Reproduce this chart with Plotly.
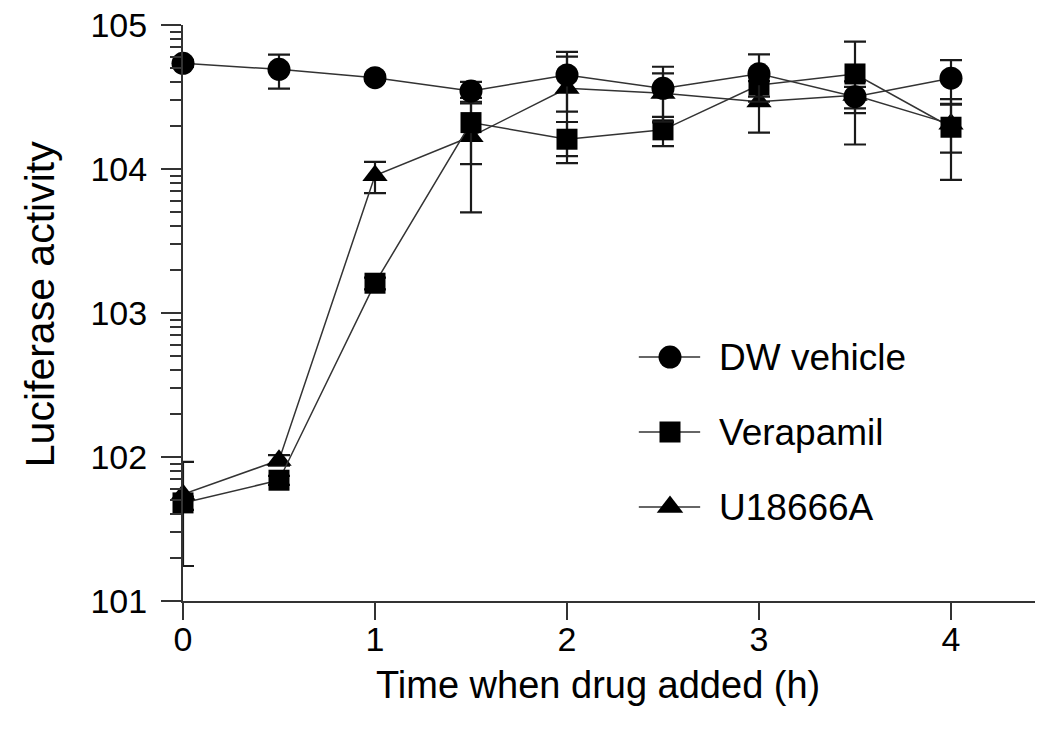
import plotly.graph_objects as go

# Time when drug was added (h)
time_h = [0, 0.5, 1, 1.5, 2, 2.5, 3, 3.5, 4]

# Mean luciferase activity and SD for each treatment
dw_mean = [54200, 49200, 43100, 34800, 45000, 36300, 45900, 31800, 42700]
dw_sd = [3000, 13100, 2000, 5500, 20000, 15000, 16600, 5400, 14400]

verapamil_mean = [48, 69, 1610, 21000, 16100, 18700, 38300, 45700, 19500]
verapamil_sd = [5, 5, 150, 10200, 5100, 4300, 6500, 30900, 11100]

u18666a_mean = [55, 95, 9000, 16800, 36300, 33600, 29300, 32500, 20500]
u18666a_sd = [37.5, 8, 2200, 11800, 24000, 12500, 11400, 8100, 7500]

series_names = ["DW vehicle", "Verapamil", "U18666A"]
decades = [1, 2, 3, 4, 5]
x_ticks = [0, 1, 2, 3, 4]

FONT = "Arial, 'Liberation Sans', sans-serif"
INK = "#000000"
LINE = "#333333"

fig = go.Figure()

# Draw U18666A first so the squares and circles sit on top
series = [
    (series_names[2], u18666a_mean, u18666a_sd, "triangle-up", 22),
    (series_names[1], verapamil_mean, verapamil_sd, "square", 21),
    (series_names[0], dw_mean, dw_sd, "circle", 23),
]
for name, mean, sd, symbol, size in series:
    fig.add_trace(go.Scatter(
        x=time_h, y=mean, name=name, mode="lines+markers",
        line=dict(color=LINE, width=1.5),
        marker=dict(symbol=symbol, size=size, color=INK, line=dict(width=0)),
        error_y=dict(type="data", array=sd, visible=True,
                     color="#1a1a1a", thickness=2.2, width=11),
        cliponaxis=False, showlegend=False,
    ))

# Key drawn on an overlay axis spanning the plot area
key_rows = [0.4236, 0.2934, 0.1632]
key_symbols = [("circle", 23), ("square", 21), ("triangle-up", 23)]
for name, (symbol, size), yy in zip(series_names, key_symbols, key_rows):
    fig.add_trace(go.Scatter(
        x=[0.535, 0.607], y=[yy, yy], mode="lines",
        line=dict(color=LINE, width=1.5),
        xaxis="x2", yaxis="y2", showlegend=False, hoverinfo="skip",
    ))
    fig.add_trace(go.Scatter(
        x=[0.5716], y=[yy], mode="markers",
        marker=dict(symbol=symbol, size=size, color=INK, opacity=1,
                    line=dict(width=0)),
        xaxis="x2", yaxis="y2", showlegend=False, hoverinfo="skip",
    ))
    fig.add_annotation(
        x=0.627, y=yy, xref="x2", yref="y2", text=name, showarrow=False,
        xanchor="left", yanchor="middle", font=dict(family=FONT, size=37, color=INK),
    )

minor_vals = [m * 10 ** d for d in decades[:-1] for m in range(2, 10)]

fig.update_layout(
    width=1037, height=734,
    margin=dict(l=183, r=2, t=25, b=133),
    paper_bgcolor="white", plot_bgcolor="white",
    font=dict(family=FONT, color=INK),
    xaxis=dict(
        range=[0, 4.4375], tickmode="array", tickvals=x_ticks,
        ticktext=[str(v) for v in x_ticks],
        showline=True, linecolor=LINE, linewidth=2,
        ticks="outside", ticklen=17, tickwidth=2, tickcolor=LINE,
        ticklabelstandoff=-10,
        showgrid=False, zeroline=False,
        tickfont=dict(family=FONT, size=34, color=INK),
    ),
    yaxis=dict(
        type="log", range=[1, 5], tickmode="array",
        tickvals=[10 ** d for d in decades],
        ticktext=[f"10{d}" for d in decades],
        showline=True, linecolor=LINE, linewidth=2,
        ticks="outside", ticklen=20, tickwidth=2, tickcolor=LINE,
        ticklabelstandoff=7,
        minor=dict(tickmode="array", tickvals=minor_vals, ticks="outside",
                   ticklen=11, tickwidth=1.5, tickcolor=LINE, showgrid=False),
        showgrid=False, zeroline=False,
        tickfont=dict(family=FONT, size=34, color=INK),
    ),
    xaxis2=dict(domain=[0, 1], range=[0, 1], overlaying="x", visible=False,
                fixedrange=True),
    yaxis2=dict(domain=[0, 1], range=[0, 1], overlaying="y", visible=False,
                fixedrange=True, anchor="x2"),
    showlegend=False,
)

fig.add_annotation(
    text="Time when drug added (h)", xref="paper", yref="paper",
    x=0.487, y=-0.145, xanchor="center", yanchor="middle", showarrow=False,
    font=dict(family=FONT, size=38, color=INK),
)
fig.add_annotation(
    text="Luciferase activity", xref="paper", yref="paper",
    x=-0.168, y=0.515, xanchor="center", yanchor="middle", showarrow=False,
    textangle=-90, font=dict(family=FONT, size=41, color=INK),
)

fig.write_html("out.html")
